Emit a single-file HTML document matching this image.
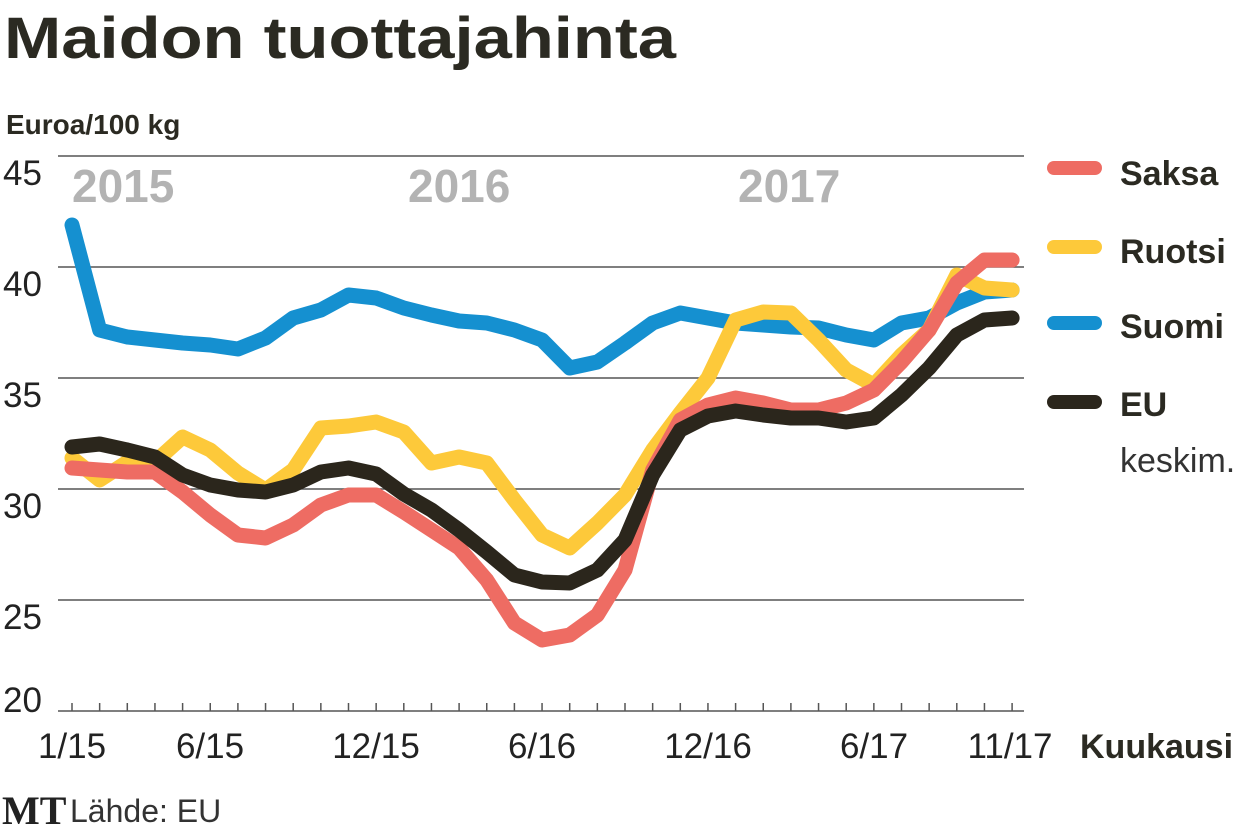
<!DOCTYPE html>
<html><head><meta charset="utf-8"><style>
body{margin:0;background:#fff;width:1240px;height:833px;overflow:hidden;font-family:"Liberation Sans",sans-serif;color:#2b2a22}
</style></head><body>
<svg width="1240" height="833" xmlns="http://www.w3.org/2000/svg" font-family="Liberation Sans, sans-serif">
<text x="4" y="58" font-size="58" font-weight="bold" fill="#2b2a22" textLength="672" lengthAdjust="spacingAndGlyphs">Maidon tuottajahinta</text>
<text x="6" y="134" font-size="28" font-weight="bold" fill="#2b2a22">Euroa/100 kg</text>
<g stroke="#555" stroke-width="1.5">
<line x1="58" y1="156" x2="1024" y2="156"/><line x1="58" y1="267" x2="1024" y2="267"/>
<line x1="58" y1="378" x2="1024" y2="378"/><line x1="58" y1="489" x2="1024" y2="489"/>
<line x1="58" y1="600" x2="1024" y2="600"/><line x1="58" y1="711" x2="1024" y2="711"/>
</g>
<g font-size="35" fill="#222">
<text x="3" y="185">45</text><text x="3" y="296">40</text><text x="3" y="407">35</text>
<text x="3" y="518">30</text><text x="3" y="629">25</text><text x="3" y="712">20</text>
</g>
<g font-size="46" font-weight="bold" fill="#b3b3b3">
<text x="72" y="202">2015</text><text x="408" y="202">2016</text><text x="738" y="202">2017</text>
</g>
<g id="ticks" stroke="#555" stroke-width="1.5"></g>
<g fill="none" stroke-width="15" stroke-linejoin="round" stroke-linecap="round">
<polyline id="blue" stroke="#1590d0"/>
<polyline id="yel" stroke="#fdc93a"/>
<polyline id="red" stroke="#ee6c63"/>
<polyline id="blk" stroke="#2b261c"/>
</g>
<g font-size="35" fill="#222" text-anchor="middle">
<text x="72" y="758">1/15</text><text x="210" y="758">6/15</text><text x="376" y="758">12/15</text>
<text x="542" y="758">6/16</text><text x="708" y="758">12/16</text><text x="874" y="758">6/17</text><text x="1010" y="758">11/17</text>
</g>
<text x="1080" y="758" font-size="34" font-weight="bold" fill="#2b2a22">Kuukausi</text>
<text x="2" y="824" font-size="40" font-weight="bold" font-family="Liberation Serif, serif" fill="#222">MT</text>
<text x="70" y="822" font-size="32" fill="#333">Lähde: EU</text>
<g stroke-width="14" stroke-linecap="round">
<line x1="1054" y1="168" x2="1095" y2="168" stroke="#ee6c63"/>
<line x1="1054" y1="247" x2="1095" y2="247" stroke="#fdc93a"/>
<line x1="1054" y1="323" x2="1095" y2="323" stroke="#1590d0"/>
<line x1="1054" y1="402" x2="1095" y2="402" stroke="#2b261c"/>
</g>
<g font-size="34" font-weight="bold" fill="#2b2a22">
<text x="1120" y="185">Saksa</text><text x="1120" y="263">Ruotsi</text><text x="1120" y="338">Suomi</text><text x="1120" y="416">EU</text>
</g>
<text x="1120" y="472" font-size="34" fill="#333">keskim.</text>
</svg>
<script>
var X=function(i){return 72+27.65*i};
function set(id,ys){document.getElementById(id).setAttribute('points',ys.map(function(y,i){return X(i)+','+y}).join(' '))}
set('blue',[225,330,337,340,343,345,349,338,318,310,295,298,308,315,321,323,330,340,368,362,343,323,313,318,323,325,327,328,335,340,323,318,303,292,290]);
set('yel',[458,480,462,462,437,450,473,490,470,428,426,422,432,463,457,463,500,535,548,523,495,450,413,378,320,312,313,340,370,385,355,330,275,288,290]);
set('red',[468,470,472,472,492,515,535,538,525,505,495,495,512,530,548,580,623,640,635,615,570,470,420,405,398,403,410,410,403,390,362,330,283,260,260]);
set('blk',[447,444,450,457,475,485,490,492,485,472,468,474,494,510,530,552,575,582,583,570,540,475,430,416,411,415,418,418,422,418,395,368,335,320,318]);
var t=document.getElementById('ticks'),s='';
for(var i=0;i<35;i++){s+='<line x1="'+X(i)+'" y1="703" x2="'+X(i)+'" y2="711"/>'}
t.innerHTML=s;
</script>
</body></html>
